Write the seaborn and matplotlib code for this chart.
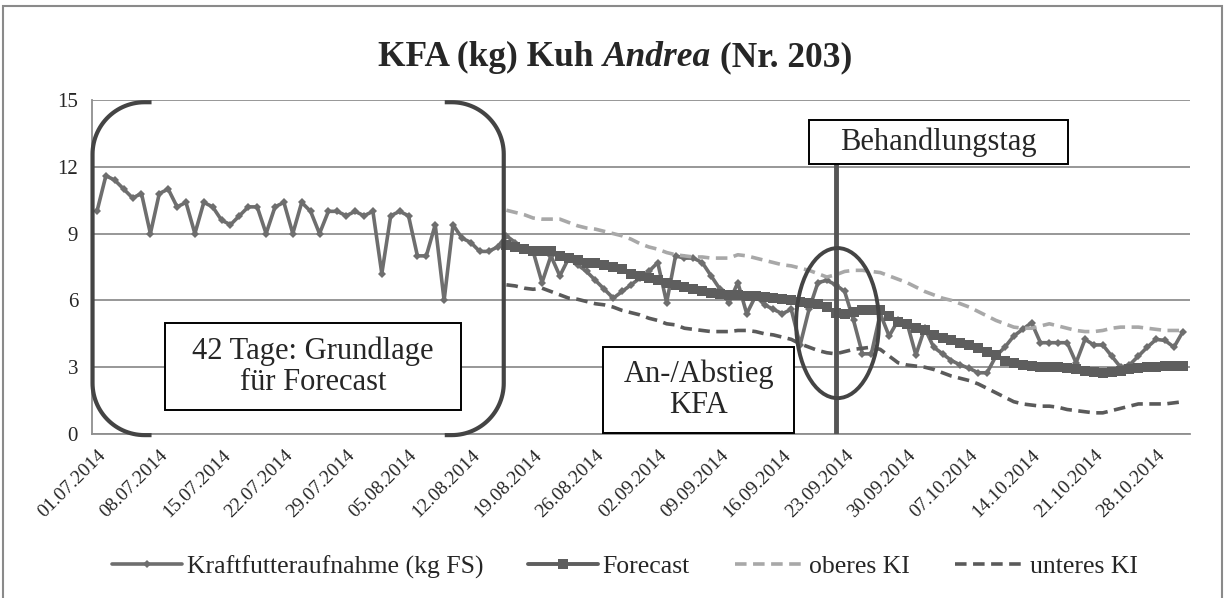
import numpy as np
import pandas as pd
import matplotlib
matplotlib.use("Agg")
import matplotlib.pyplot as plt
import seaborn as sns
from matplotlib.patches import Ellipse, Rectangle
from matplotlib.lines import Line2D
from matplotlib.transforms import IdentityTransform

# Daten: Tage ab 01.07.2014 (Index 0) bis 31.10.2014 (Index 122)
dates = pd.date_range("2014-07-01", "2014-10-31", freq="D")
days = np.arange(len(dates))
forecast_start = 46
treatment_day = 83

# Kraftfutteraufnahme (kg FS)
actual = [10.0, 11.6, 11.4, 11.0, 10.6, 10.8, 9.0, 10.8, 11.0, 10.2,
          10.4, 9.0, 10.4, 10.2, 9.6, 9.4, 9.8, 10.2, 10.2, 9.0,
          10.2, 10.4, 9.0, 10.4, 10.0, 9.0, 10.0, 10.0, 9.8, 10.0,
          9.8, 10.0, 7.2, 9.8, 10.0, 9.8, 8.0, 8.0, 9.4, 6.0,
          9.4, 8.8, 8.6, 8.2, 8.2, 8.4,
          8.9, 8.6, 8.3, 8.2, 6.8, 8.0, 7.1, 7.9, 7.6, 7.3,
          6.9, 6.5, 6.1, 6.4, 6.7, 7.0, 7.3, 7.7, 5.9, 8.0,
          7.9, 7.9, 7.7, 7.1, 6.5, 5.9, 6.8, 5.4, 6.2, 5.8,
          5.6, 5.4, 5.6, 4.0, 5.6, 6.8, 6.9, 6.7, 6.4, 5.1,
          3.6, 3.6, 5.4, 4.4, 5.1,
          5.0, 3.55, 4.75, 3.9, 3.6, 3.3, 3.1, 2.95, 2.75, 2.75,
          3.5, 3.9, 4.4, 4.7, 5.0, 4.1, 4.1, 4.1, 4.1, 3.2,
          4.25, 4.0, 4.0, 3.5, 3.0, 3.1, 3.5, 3.9, 4.25, 4.2,
          3.9, 4.6]

# Forecast und Konfidenzintervall ab Tag 46
forecast = [8.5, 8.4, 8.3, 8.2, 8.2, 8.2, 8.0, 7.9, 7.8, 7.7,
            7.7, 7.6, 7.5, 7.4, 7.2, 7.1, 7.0, 6.9, 6.8, 6.7,
            6.6, 6.5, 6.4, 6.35, 6.3, 6.25, 6.25, 6.2, 6.2, 6.15,
            6.1, 6.05, 6.0, 5.95, 5.9, 5.85, 5.7, 5.45, 5.4, 5.5,
            5.55, 5.55, 5.55, 5.3, 5.05, 4.95, 4.75, 4.65, 4.45, 4.3,
            4.2, 4.1, 4.0, 3.85, 3.7, 3.55, 3.3, 3.2, 3.1, 3.05,
            3.0, 3.0, 3.0, 2.95, 2.9, 2.85, 2.8, 2.75, 2.8, 2.85,
            2.9, 2.95, 3.0, 3.0, 3.05, 3.05, 3.05]
upper_ki = [10.05, 9.95, 9.85, 9.7, 9.65, 9.65, 9.65, 9.5, 9.35, 9.25,
            9.2, 9.1, 9.0, 8.9, 8.75, 8.55, 8.4, 8.3, 8.15, 8.05,
            8.0, 7.95, 7.95, 7.9, 7.9, 7.9, 8.05, 8.0, 7.9, 7.8,
            7.7, 7.6, 7.55, 7.45, 7.35, 7.2, 7.05, 7.15, 7.3, 7.35,
            7.35, 7.3, 7.25, 7.1, 6.95, 6.8, 6.6, 6.4, 6.25, 6.1,
            6.0, 5.85, 5.7, 5.5, 5.3, 5.1, 4.95, 4.8, 4.75, 4.75,
            4.85, 4.95, 4.85, 4.75, 4.65, 4.6, 4.6, 4.65, 4.75, 4.8,
            4.8, 4.8, 4.75, 4.7, 4.65, 4.65, 4.65]
lower_ki = [6.7, 6.65, 6.55, 6.5, 6.55, 6.4, 6.25, 6.1, 6.05, 5.95,
            5.85, 5.8, 5.7, 5.55, 5.45, 5.35, 5.2, 5.1, 4.95, 4.9,
            4.75, 4.7, 4.65, 4.6, 4.6, 4.6, 4.65, 4.65, 4.6, 4.5,
            4.45, 4.35, 4.25, 4.05, 3.9, 3.75, 3.65, 3.6, 3.7, 3.8,
            3.85, 3.9, 3.8, 3.5, 3.2, 3.1, 3.05, 3.0, 2.9, 2.75,
            2.6, 2.5, 2.4, 2.25, 2.05, 1.85, 1.65, 1.45, 1.35, 1.3,
            1.25, 1.25, 1.2, 1.1, 1.05, 1.0, 0.95, 0.95, 1.05, 1.15,
            1.25, 1.35, 1.35, 1.35, 1.35, 1.4, 1.45]

tick_labels = ["01.07.2014", "08.07.2014", "15.07.2014", "22.07.2014",
               "29.07.2014", "05.08.2014", "12.08.2014", "19.08.2014",
               "26.08.2014", "02.09.2014", "09.09.2014", "16.09.2014",
               "23.09.2014", "30.09.2014", "07.10.2014", "14.10.2014",
               "21.10.2014", "28.10.2014"]
y_ticks = [0, 3, 6, 9, 12, 15]

fc_days = days[forecast_start:]

sns.set_style("white")
plt.rcParams['font.family'] = ['Liberation Serif', 'DejaVu Serif']

W, H = 1227, 598
fig = plt.figure(figsize=(W / 100, H / 100), dpi=100)
ax = fig.add_axes([92 / W, 1 - 434 / H, (1190 - 92) / W, (434 - 100) / H])

c_act = '#6e6e6e'
c_fc = '#5e5e5e'
c_up = '#a8a8a8'
c_lo = '#5a5a5a'
c_note = '#444444'
grid_c = '#8f8f8f'

sns.lineplot(x=days, y=actual, ax=ax, color=c_act, lw=2.6, marker='D',
             markersize=4.5, markeredgewidth=0, sort=False, errorbar=None,
             label='Kraftfutteraufnahme (kg FS)', zorder=3)
sns.lineplot(x=fc_days, y=forecast, ax=ax, color=c_fc, lw=2.8, marker='s',
             markersize=6.5, markeredgewidth=0, sort=False, errorbar=None,
             label='Forecast', zorder=4)
sns.lineplot(x=fc_days, y=upper_ki, ax=ax, color=c_up, lw=2.6,
             linestyle=(0, (3.2, 1.8)), sort=False, errorbar=None,
             label='oberes KI', zorder=3)
sns.lineplot(x=fc_days, y=lower_ki, ax=ax, color=c_lo, lw=2.6,
             linestyle=(0, (3.2, 1.8)), sort=False, errorbar=None,
             label='unteres KI', zorder=3)

ax.set_xlim(-0.56, 122.8)
ax.set_ylim(0, 15)
ax.set_yticks(y_ticks)
ax.set_xticks(days[::7][:len(tick_labels)])
ax.set_xticklabels(tick_labels, rotation=45, ha='right', va='top',
                   rotation_mode='anchor')
ax.set_xlabel('')
ax.set_ylabel('')
ax.yaxis.grid(True, color=grid_c, lw=1.3)
ax.xaxis.grid(False)
ax.set_axisbelow(True)
for s in ['top', 'right']:
    ax.spines[s].set_visible(False)
for s in ['left', 'bottom']:
    ax.spines[s].set_color(grid_c)
    ax.spines[s].set_linewidth(1.3)
ax.tick_params(axis='x', direction='out', length=5, width=1.3, color=grid_c,
               labelsize=14, pad=4)
ax.tick_params(axis='y', direction='out', length=4, width=1.3, color=grid_c,
               labelsize=15, pad=6)

# Legende unten
handles, labels = ax.get_legend_handles_labels()
ax.get_legend().remove()
fig.legend(handles, labels, loc='center', bbox_to_anchor=(625 / W, 1 - 567 / H),
           ncol=4, frameon=False, fontsize=18.5, handlelength=2.7,
           handletextpad=0.2, columnspacing=1.75, numpoints=1)

# Markierungen
ax.vlines(treatment_day, 0, 12.12, color='#555555', lw=3.5, zorder=6)
ax.add_patch(Ellipse((83.2, 4.98), width=9.3, height=6.74, fill=False,
                     ec=c_note, lw=2.8, zorder=7))

boxes = [((7.65, 1.08), 33.2, 3.9, "42 Tage: Grundlage\nfür Forecast"),
         ((56.9, 0.04), 21.4, 3.86, "An-/Abstieg\nKFA"),
         ((80.0, 12.12), 29.1, 1.98, "Behandlungstag")]
for (bx, by), bw, bh, txt in boxes:
    ax.add_patch(Rectangle((bx, by), bw, bh, fc='white', ec='black', lw=1.4,
                           zorder=8, clip_on=False))
    ax.text(bx + bw / 2, by + bh / 2, txt, ha='center', va='center',
            fontsize=22, linespacing=1.1, zorder=9)

# Klammer um die 42 Tage (in Pixeln, damit die Ecken rund bleiben)
fig.canvas.draw()
(xl, yb), (xr, yt) = ax.transData.transform([(-0.5, -0.05), (45.7, 14.9)])
r, arm = 52, 7
t = np.linspace(0, np.pi / 2, 30)
left_x = np.concatenate([[xl + r + arm], xl + r - r * np.sin(t),
                         xl + r - r * np.cos(t), [xl + r + arm]])
left_y = np.concatenate([[yt], yt - r + r * np.cos(t),
                         yb + r - r * np.sin(t), [yb]])
right_x = xl + xr - left_x
for xs in [left_x, right_x]:
    fig.add_artist(Line2D(xs, left_y, transform=IdentityTransform(),
                          color=c_note, lw=3, solid_capstyle='butt', zorder=10))

# Titel mit kursivem Namen
title_y = 1 - 66 / H
pieces = [("KFA (kg) Kuh", 'normal'), ("Andrea", 'italic'), ("(Nr. 203)", 'normal')]
renderer = fig.canvas.get_renderer()
texts = [fig.text(0, title_y, s, fontsize=25.5, fontweight='bold', fontstyle=st,
                  ha='left', va='baseline') for s, st in pieces]
widths = [tx.get_window_extent(renderer).width for tx in texts]
space = 0.25 * 25.5 * 100 / 72
total = sum(widths) + space * (len(widths) - 1)
x0 = 615 - total / 2
for tx, w in zip(texts, widths):
    tx.set_x(x0 / W)
    x0 += w + space

# Rahmen des Diagrammbereichs
fig.add_artist(Rectangle((3 / W, -0.02), 1219 / W, 1 - 6 / H + 0.02,
                         transform=fig.transFigure, fill=False,
                         ec='#8a8a8a', lw=1.5))

fig.savefig("out.png", dpi=100)
